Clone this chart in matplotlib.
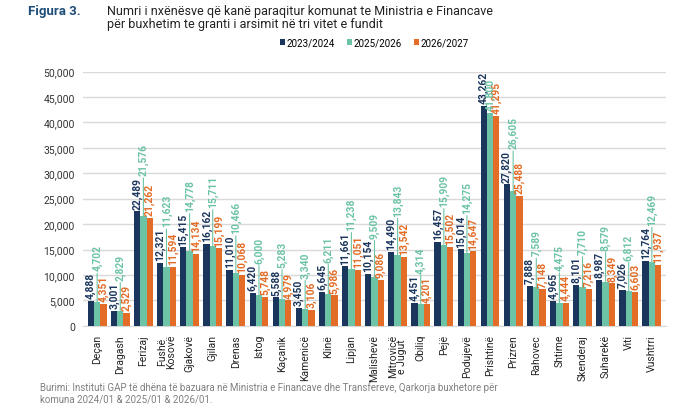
import matplotlib.pyplot as plt
import numpy as np

plt.rcParams['font.family'] = ['Roboto', 'DejaVu Sans']

municipalities = ['Deçan', 'Dragash', 'Ferizaj', 'Fushë\nKosovë', 'Gjakovë', 'Gjilan', 'Drenas',
                  'Istog', 'Kaçanik', 'Kamenicë', 'Klinë', 'Lipjan', 'Malishevë', 'Mitrovicë\ne Jugut',
                  'Obiliq', 'Pejë', 'Podujevë', 'Prishtinë', 'Prizren', 'Rahovec', 'Shtime',
                  'Skenderaj', 'Suharekë', 'Viti', 'Vushtrri']
y2023 = [4888, 3001, 22489, 12321, 15415, 16162, 11010, 6420, 5588, 3450, 6645, 11661, 10154,
         14490, 4451, 16457, 15014, 43262, 27820, 7888, 4965, 8101, 8987, 7026, 12764]
y2025 = [4702, 2829, 21576, 11623, 14778, 15711, 10466, 6000, 5283, 3340, 6211, 11238, 9509,
         13843, 4314, 15909, 14275, 41800, 26605, 7589, 4475, 7710, 8579, 6812, 12469]
y2026 = [4351, 2529, 21262, 11594, 14134, 15199, 10068, 5748, 4979, 3106, 5986, 11051, 9086,
         13542, 4201, 15502, 14647, 41295, 25488, 7148, 4444, 7216, 8349, 6603, 11937]
series_names = ['2023/2024', '2025/2026', '2026/2027']
colors = ['#1b365d', '#6cc3a5', '#e36c26']

fig = plt.figure(figsize=(7, 4.1), dpi=100)
ax = fig.add_axes([0.119, 0.203, 0.832, 0.62])

x = np.arange(len(municipalities))
w = 0.27
lab_kw = dict(rotation=90, ha='center', va='bottom', fontsize=7.4, fontweight='bold', zorder=4)

series = [y2023, y2025, y2026]
for i, (vals, name, c) in enumerate(zip(series, series_names, colors)):
    ax.bar(x + (i - 1) * w, vals, width=w, color=c, label=name, zorder=3)

ax.set_ylim(0, 50000)
ax.set_xlim(-0.6, len(municipalities) - 0.4)

# navy and orange labels sit just above their bars
navy_labels = []
for i in (0, 2):
    for p, v in zip(x + (i - 1) * w, series[i]):
        t = ax.annotate(f'{v:,}', (p, v), xytext=(0, 2), textcoords='offset points',
                        color=colors[i], **lab_kw)
        if i == 0:
            navy_labels.append(t)

# teal labels are lifted above the navy label with a leader line, when there is room
fig.canvas.draw()
r = fig.canvas.get_renderer()
inv = ax.transData.inverted()
for p, v, nl in zip(x, y2025, navy_labels):
    bb = nl.get_window_extent(r)
    top = inv.transform((0, bb.y1))[1] + 300
    if top + 5500 < 50000:
        ax.annotate(f'{v:,}', (p, v), xytext=(p, top), textcoords='data', color=colors[1],
                    arrowprops=dict(arrowstyle='-', color=colors[1], lw=0.8, shrinkA=0, shrinkB=0),
                    **lab_kw)
    else:
        ax.annotate(f'{v:,}', (p, v), xytext=(0, 2), textcoords='offset points',
                    color=colors[1], **lab_kw)

ax.set_yticks(np.arange(0, 50001, 5000))
ax.set_yticklabels([f'{t:,}' for t in range(0, 50001, 5000)], fontsize=7.5, color='#333333')
ax.set_xticks(x)
ax.set_xticklabels(municipalities, rotation=90, fontsize=7.5, color='#222222', linespacing=0.9)
ax.tick_params(length=0, pad=6)
ax.grid(axis='y', color='#d9d9d9', linewidth=1, zorder=0)
for s in ['top', 'right', 'left']:
    ax.spines[s].set_visible(False)
ax.spines['bottom'].set_color('#d9d9d9')

ax.legend(loc='center', bbox_to_anchor=(0.5, 1.115), ncol=3, frameon=False,
          fontsize=7, handlelength=0.5, handleheight=0.5, handletextpad=0.2, columnspacing=1.2)

fig.text(0.04, 0.988, 'Figura 3.', fontsize=9.5, fontweight='bold', color='#1f4e79', va='top')
fig.text(0.153, 0.988, 'Numri i nxënësve që kanë paraqitur komunat te Ministria e Financave\n'
         'për buxhetim te granti i arsimit në tri vitet e fundit',
         fontsize=9, color='#222222', va='top', linespacing=1.05)
fig.text(0.057, 0.068, 'Burimi: Instituti GAP të dhëna të bazuara në Ministria e Financave dhe Transfereve, '
         'Qarkorja buxhetore për\nkomuna 2024/01 & 2025/01 & 2026/01.',
         fontsize=7, color='#808080', va='top', linespacing=1.2)

plt.savefig('out.png', dpi=100)
